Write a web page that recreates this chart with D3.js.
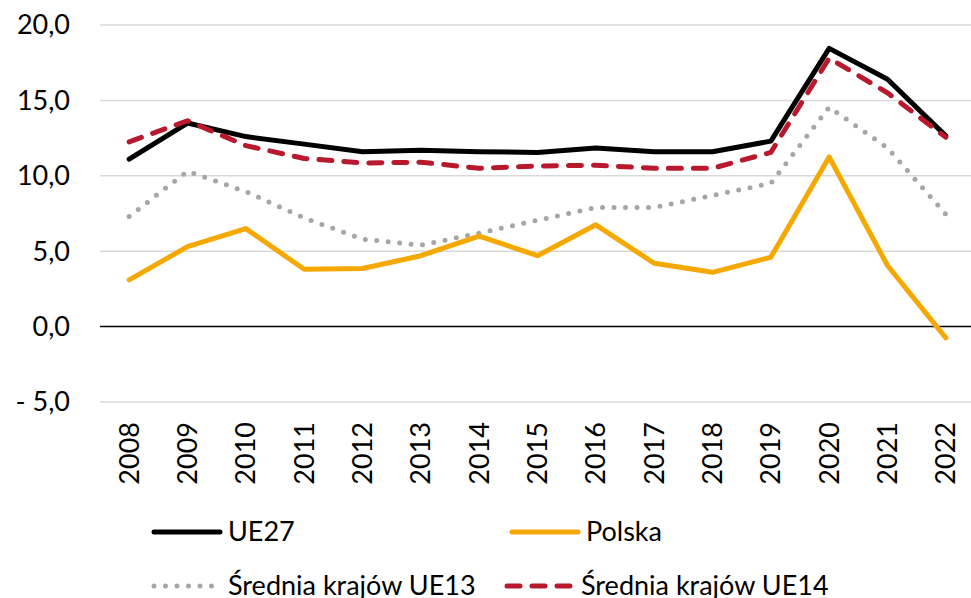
<!DOCTYPE html>
<html>
<head>
<meta charset="utf-8">
<script src="https://cdn.jsdelivr.net/npm/d3@7"></script>
<style>
  html, body { margin: 0; padding: 0; background: #fff; }
  svg { display: block; font-family: Lato, "Open Sans", sans-serif; }
</style>
</head>
<body>
<svg id="chart" width="971" height="598"></svg>
<script>
// Years on the category axis
const years = ["2008","2009","2010","2011","2012","2013","2014","2015","2016","2017","2018","2019","2020","2021","2022"];

// Series values
const ue27   = [11.1, 13.5, 12.6, 12.1, 11.6, 11.7, 11.6, 11.55, 11.85, 11.6, 11.6, 12.3, 18.45, 16.4, 12.65];
const polska = [3.1, 5.3, 6.5, 3.8, 3.85, 4.7, 6.0, 4.7, 6.75, 4.2, 3.6, 4.6, 11.25, 4.05, -0.75];
const ue13   = [7.3, 10.3, 8.95, 7.2, 5.8, 5.4, 6.2, 7.05, 7.9, 7.9, 8.7, 9.5, 14.55, 11.85, 7.45];
const ue14   = [12.25, 13.65, 12.0, 11.15, 10.85, 10.9, 10.5, 10.65, 10.7, 10.5, 10.5, 11.55, 17.8, 15.5, 12.55];

// Value axis ticks
const yTicks = [-5, 0, 5, 10, 15, 20];
const yTickLabels = ["- 5,0", "0,0", "5,0", "10,0", "15,0", "20,0"];

const seriesNames = ["UE27", "Polska", "Średnia krajów UE13", "Średnia krajów UE14"];

const svg = d3.select("#chart");

const x = d3.scalePoint().domain(years).range([100, 975]).padding(0.5);
const y = d3.scaleLinear().domain([-5, 20]).range([402, 25]);

const fontSize = 27;

// Horizontal gridlines
svg.append("g").selectAll("line")
  .data(yTicks.filter(d => d !== 0))
  .join("line")
  .attr("x1", 100).attr("x2", 971)
  .attr("y1", d => y(d)).attr("y2", d => y(d))
  .attr("stroke", "#d9d9d9").attr("stroke-width", 1.5);

// Zero line
svg.append("line")
  .attr("x1", 100).attr("x2", 971)
  .attr("y1", y(0)).attr("y2", y(0))
  .attr("stroke", "#000").attr("stroke-width", 1.5);

// Y axis labels
svg.append("g").selectAll("text")
  .data(yTicks)
  .join("text")
  .attr("x", 70)
  .attr("y", d => y(d))
  .attr("dy", "0.35em")
  .attr("text-anchor", "end")
  .attr("font-size", fontSize)
  .attr("fill", "#000")
  .text((d, i) => yTickLabels[i]);

// X axis labels (rotated)
svg.append("g").selectAll("text")
  .data(years)
  .join("text")
  .attr("transform", d => `translate(${x(d)},422) rotate(-90)`)
  .attr("dy", "0.35em")
  .attr("text-anchor", "end")
  .attr("font-size", fontSize)
  .attr("fill", "#000")
  .text(d => d);

const line = d3.line().x((d, i) => x(years[i])).y(d => y(d));

const styles = [
  { data: ue13,   stroke: "#a6a6a6", dash: "0,11.5", width: 5 },
  { data: polska, stroke: "#f5a800", dash: null,     width: 5 },
  { data: ue27,   stroke: "#000000", dash: null,     width: 5 },
  { data: ue14,   stroke: "#b8192c", dash: "13,12",  width: 5 }
];

svg.append("g").selectAll("path")
  .data(styles)
  .join("path")
  .attr("d", s => line(s.data))
  .attr("fill", "none")
  .attr("stroke", s => s.stroke)
  .attr("stroke-width", s => s.width)
  .attr("stroke-dasharray", s => s.dash)
  .attr("stroke-linecap", "round")
  .attr("stroke-linejoin", "round");

// Legend
const legendItems = [
  { name: seriesNames[0], stroke: "#000000", dash: null,     lx: 152, ly: 532 },
  { name: seriesNames[1], stroke: "#f5a800", dash: null,     lx: 510, ly: 532 },
  { name: seriesNames[2], stroke: "#a6a6a6", dash: "0,11.5", lx: 152, ly: 586 },
  { name: seriesNames[3], stroke: "#b8192c", dash: "13,12",  lx: 505, ly: 586 }
];

const lg = svg.append("g").selectAll("g").data(legendItems).join("g");
lg.append("line")
  .attr("x1", d => d.lx + 2).attr("x2", d => d.lx + 68)
  .attr("y1", d => d.ly).attr("y2", d => d.ly)
  .attr("stroke", d => d.stroke)
  .attr("stroke-width", 5)
  .attr("stroke-linecap", "round")
  .attr("stroke-dasharray", d => d.dash);
lg.append("text")
  .attr("x", d => d.lx + 76)
  .attr("y", d => d.ly)
  .attr("dy", "0.35em")
  .attr("font-size", fontSize)
  .attr("fill", "#000")
  .text(d => d.name);
</script>
</body>
</html>
